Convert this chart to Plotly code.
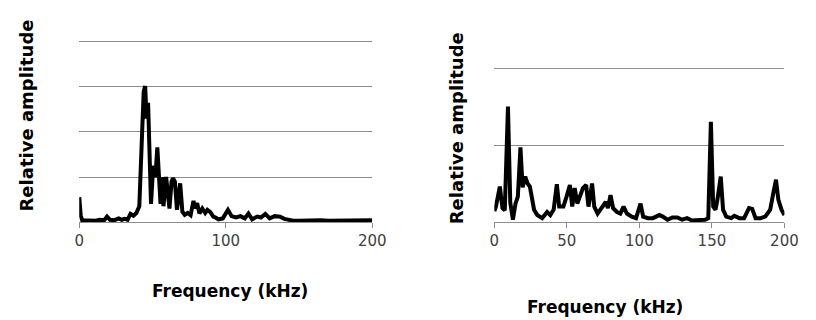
import plotly.graph_objects as go

W, H = 816, 320

# Left spectrum (frequency kHz, relative amplitude)
left_freq = [0, 1, 2, 5, 8, 11, 14, 17, 19, 21, 24, 27, 29, 31, 33, 35, 37, 39, 41, 42.5,
             44, 45, 46, 47, 48, 49, 50.5, 52, 53.3, 54.5, 55.5, 56.5, 57.5, 59.3, 60.5, 61.6,
             63, 64, 65.3, 66.7, 68.9, 70.4, 72, 74, 76, 78, 79, 80.5, 82, 84, 86, 87.5, 89.5,
             91.5, 93, 95, 98, 101.5, 104, 107, 110, 113, 115.5, 118, 121.5, 124, 127, 130,
             133.5, 137, 140, 143, 146, 150, 155, 160, 165, 170, 175, 180, 185, 190, 195, 200]
left_amp = [0.55, 0.15, 0.04, 0.03, 0.04, 0.03, 0.05, 0.04, 0.12, 0.05, 0.04, 0.08, 0.05, 0.07,
            0.05, 0.18, 0.14, 0.2, 0.35, 1.5, 2.9, 3.02, 2.3, 2.65, 1.6, 0.4, 1.25, 1.0, 1.66,
            1.1, 0.4, 1.0, 0.35, 1.0, 0.5, 0.3, 0.9, 0.97, 0.9, 0.27, 0.86, 0.23, 0.16, 0.2,
            0.15, 0.47, 0.3, 0.42, 0.19, 0.3, 0.2, 0.27, 0.22, 0.12, 0.1, 0.06, 0.08, 0.27,
            0.13, 0.1, 0.13, 0.08, 0.19, 0.06, 0.12, 0.1, 0.18, 0.08, 0.13, 0.12, 0.07, 0.04,
            0.03, 0.03, 0.04, 0.03, 0.04, 0.03, 0.03, 0.04, 0.03, 0.04, 0.03, 0.04]

# Right spectrum
right_freq = [0, 1.1, 3.8, 5.6, 7.2, 9.4, 11, 12.8, 14.6, 16.2, 18, 19.5, 21.3, 22.9, 24.5,
              25.8, 27.4, 29.6, 33, 36.4, 38.6, 40.9, 43.1, 44.7, 47.6, 49.8, 52.1, 53.7,
              55.4, 57.2, 58.8, 61.1, 63.3, 64.9, 67.4, 68.9, 71.2, 74.5, 76.8, 78.3, 80.1,
              81.9, 84.6, 86.9, 89.1, 91.4, 94.7, 97.7, 100.8, 102.6, 106, 109.3, 113.8,
              116.1, 119.4, 122.8, 126.2, 129.5, 132.9, 136.3, 140.8, 145.3, 147.5, 149.3,
              150.9, 152.5, 153.8, 156.1, 157.7, 159.9, 163.3, 165.5, 168.9, 172.2, 175.6,
              177.8, 180.1, 183.5, 186.8, 190.2, 192.4, 194.2, 195.8, 198, 200]
right_amp = [0.14, 0.2, 0.46, 0.18, 0.15, 1.5, 0.25, 0.03, 0.24, 0.33, 0.97, 0.45, 0.59, 0.5,
             0.46, 0.29, 0.16, 0.09, 0.05, 0.13, 0.09, 0.16, 0.49, 0.2, 0.2, 0.33, 0.48, 0.2,
             0.44, 0.24, 0.33, 0.44, 0.48, 0.2, 0.5, 0.2, 0.11, 0.2, 0.26, 0.18, 0.35, 0.18,
             0.13, 0.11, 0.2, 0.11, 0.07, 0.05, 0.24, 0.07, 0.05, 0.05, 0.09, 0.07, 0.03, 0.06,
             0.06, 0.03, 0.05, 0.02, 0.02, 0.03, 0.05, 1.3, 0.2, 0.16, 0.29, 0.59, 0.16, 0.07,
             0.05, 0.08, 0.05, 0.05, 0.18, 0.17, 0.05, 0.05, 0.07, 0.16, 0.38, 0.55, 0.29,
             0.16, 0.09]

left_ticks = [0, 100, 200]
right_ticks = [0, 50, 100, 150, 200]
x_title = "Frequency (kHz)"
y_title = "Relative amplitude"

def px(x):
    return x / W

def py(y):
    return 1 - y / H

fig = go.Figure()
fig.add_trace(go.Scatter(x=left_freq, y=left_amp, mode="lines",
                         line=dict(color="black", width=4), xaxis="x", yaxis="y",
                         showlegend=False, hoverinfo="skip"))
fig.add_trace(go.Scatter(x=right_freq, y=right_amp, mode="lines",
                         line=dict(color="black", width=4), xaxis="x2", yaxis="y2",
                         showlegend=False, hoverinfo="skip"))

grid = "#8c8c8c"
tickfont = dict(family="DejaVu Sans", size=15, color="#404040")
common_x = dict(showline=True, linecolor=grid, linewidth=1, ticks="outside", ticklen=5,
                tickcolor=grid, showgrid=False, zeroline=False, tickfont=tickfont,
                fixedrange=True)
common_y = dict(showline=False, showticklabels=False, ticks="", showgrid=True,
                gridcolor=grid, gridwidth=1, zeroline=False, fixedrange=True)

fig.update_layout(
    width=W, height=H, autosize=False, margin=dict(l=0, r=0, t=0, b=0),
    paper_bgcolor="white", plot_bgcolor="white",
    xaxis=dict(domain=[px(76), px(376)], range=[0, 200], tickvals=left_ticks,
               anchor="y", **common_x),
    yaxis=dict(domain=[py(222), py(40)], range=[0, 4.044], tickvals=[1, 2, 3, 4],
               anchor="x", **common_y),
    xaxis2=dict(domain=[px(501), px(798)], range=[0, 200], tickvals=right_ticks,
                anchor="y2", **common_x),
    yaxis2=dict(domain=[py(222), py(66)], range=[0, 2.026], tickvals=[1, 2],
                anchor="x2", **common_y),
)

tfont = dict(family="DejaVu Sans", size=17, color="black")
yfont = dict(family="DejaVu Sans", size=18, color="black")
anns = [
    dict(text="<b>%s</b>" % x_title, x=px(230), y=py(291), font=tfont),
    dict(text="<b>%s</b>" % x_title, x=px(614), y=py(307), font=tfont),
    dict(text="<b>%s</b>" % y_title, x=px(22), y=py(115), font=yfont, textangle=-90),
    dict(text="<b>%s</b>" % y_title, x=px(462), y=py(128), font=yfont, textangle=-90),
]
for a in anns:
    fig.add_annotation(xref="paper", yref="paper", showarrow=False,
                       xanchor="center", yanchor="middle", **a)

fig.write_html("out.html", config={"displayModeBar": False, "responsive": False},
               post_script="document.body.style.margin='0';document.body.style.overflow='hidden';")
